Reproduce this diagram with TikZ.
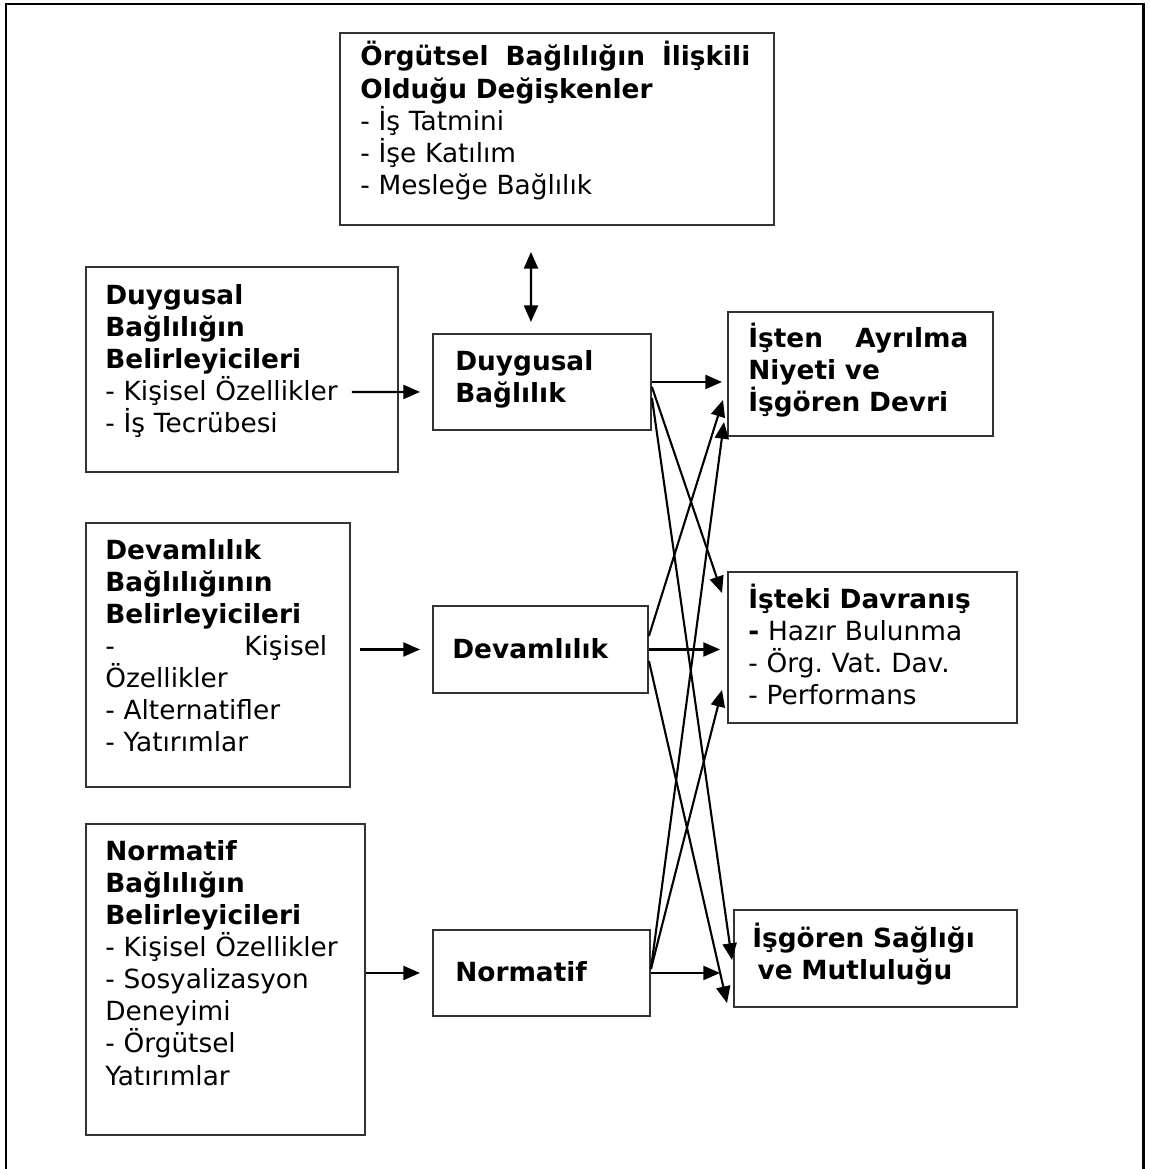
\documentclass[tikz,border=0pt]{standalone}
\usepackage{fontspec}
\setmainfont{DejaVu Sans}
\usepackage{tikz}
\usetikzlibrary{arrows.meta, positioning}
\frenchspacing
\tikzstyle{kutu} = [rectangle, draw=black!80, line width=1.1pt, anchor=north west, inner sep=0pt]
\tikzstyle{yazi} = [anchor=base west, inner sep=0pt, align=left, font=\fontsize{15}{18.3}\selectfont]
\tikzstyle{ok} = [-{Triangle[length=9.5pt, width=8pt]}, line width=1.2pt]
\tikzstyle{cift} = [{Triangle[length=9.5pt, width=8pt]}-{Triangle[length=9.5pt, width=8pt]}, line width=1.2pt]
\tikzset{boyut/.style 2 args={minimum width=#1*0.02cm, minimum height=#2*0.02cm}}
\begin{document}
\begin{tikzpicture}[x=0.02cm, y=-0.02cm]
  \useasboundingbox (0,0) rectangle (1149,1169);

  % Frame
  \draw[line width=1.7pt] (6,1169) -- (6,4) -- (1143,4) -- (1143,1169);

  % Boxes
  \node[kutu, boyut={434}{192}] (org) at (339,32) {};
  \node[kutu, boyut={312}{205}] (duybel) at (85,266) {};
  \node[kutu, boyut={264}{264}] (devbel) at (85,522) {};
  \node[kutu, boyut={279}{311}] (norbel) at (85,823) {};
  \node[kutu, boyut={218}{96}] (duyg) at (432,333) {};
  \node[kutu, boyut={215}{87}] (dev) at (432,605) {};
  \node[kutu, boyut={217}{86}] (nor) at (432,929) {};
  \node[kutu, boyut={265}{124}] (isten) at (727,311) {};
  \node[kutu, boyut={289}{151}] (isteki) at (727,571) {};
  \node[kutu, boyut={283}{97}] (isgor) at (733,909) {};

  % Texts
  \node[yazi, text width=7.8cm] (orgyazi) at ([shift={(21,34)}]org.north west)
    {\textbf{Örgütsel\hfill Bağlılığın\hfill İlişkili}\\ \textbf{Olduğu Değişkenler}\\ - İş Tatmini\\ - İşe Katılım\\ - Mesleğe Bağlılık};
  \node[yazi, text width=6cm] (duybelyazi) at ([shift={(20,38)}]duybel.north west)
    {\textbf{Duygusal}\\ \textbf{Bağlılığın}\\ \textbf{Belirleyicileri}\\ - Kişisel Özellikler\\ - İş Tecrübesi};
  \node[yazi, text width=4.44cm] (devbelyazi) at ([shift={(20,37)}]devbel.north west)
    {\textbf{Devamlılık}\\ \textbf{Bağlılığının}\\ \textbf{Belirleyicileri}\\ -\hfill Kişisel\\ Özellikler\\ - Alternatifler\\ - Yatırımlar};
  \node[yazi, text width=6cm] (norbelyazi) at ([shift={(20,37)}]norbel.north west)
    {\textbf{Normatif}\\ \textbf{Bağlılığın}\\ \textbf{Belirleyicileri}\\ - Kişisel Özellikler\\ - Sosyalizasyon\\ Deneyimi\\ - Örgütsel\\ Yatırımlar};
  \node[yazi, text width=4cm] (duygyazi) at ([shift={(23,37)}]duyg.north west)
    {\textbf{Duygusal}\\ \textbf{Bağlılık}};
  \node[yazi, text width=4cm] (devyazi) at ([shift={(20,53)}]dev.north west)
    {\textbf{Devamlılık}};
  \node[yazi, text width=4cm] (noryazi) at ([shift={(23,52)}]nor.north west)
    {\textbf{Normatif}};
  \node[yazi, text width=4.4cm] (istenyazi) at ([shift={(21,36)}]isten.north west)
    {\textbf{İşten\hfill Ayrılma}\\ \textbf{Niyeti ve}\\ \textbf{İşgören Devri}};
  \node[yazi, text width=5cm] (istekiyazi) at ([shift={(21,37)}]isteki.north west)
    {\textbf{İşteki Davranış}\\ \textbf{-} Hazır Bulunma\\ - Örg. Vat. Dav.\\ - Performans};
  \node[yazi, text width=5.2cm] (isgoryazi) at ([shift={(19,38)}]isgor.north west)
    {\textbf{İşgören Sağlığı}\\ \hspace*{3pt}\textbf{ve Mutluluğu}};

  % Determinants
  \draw[cift, shorten <=0.52cm, shorten >=0.22cm] ([xshift=-0.52cm]org.south) -- ([xshift=-0.22cm]duyg.north);
  \draw[ok, shorten >=0.24cm] ([shift={(-0.94cm,-0.45cm)}]duybel.east) -- ([yshift=-0.2cm]duyg.west);
  \draw[ok, shorten <=0.18cm, shorten >=0.24cm] (devbel.east |- dev.west) -- (dev.west);
  \draw[ok, shorten >=0.24cm] (norbel.east |- nor.west) -- (nor.west);

  % Duygusal
  \draw[ok, shorten >=0.1cm] (duyg.east) -- (isten.west |- duyg.east);
  \draw[ok] ([yshift=-0.1cm]duyg.east) -- ([shift={(-5,22)}]isteki.north west);
  \draw[ok] ([yshift=-0.32cm]duyg.east) -- ([shift={(-1,51)}]isgor.north west);

  % Devamlilik
  \draw[ok] ([yshift=0.27cm]dev.east) -- ([shift={(-4,89)}]isten.north west);
  \draw[ok, shorten >=0.14cm] (dev.east) -- (isteki.west |- dev.east);
  \draw[ok] ([yshift=-0.23cm]dev.east) -- ([shift={(-6,94)}]isgor.north west);

  % Normatif
  \draw[ok] ([yshift=0.08cm]nor.east) -- ([shift={(-3,111)}]isten.north west);
  \draw[ok] ([yshift=0.08cm]nor.east) -- ([shift={(-5,119)}]isteki.north west);
  \draw[ok, shorten >=0.26cm] (nor.east) -- (isgor.west |- nor.east);

\end{tikzpicture}
\end{document}
